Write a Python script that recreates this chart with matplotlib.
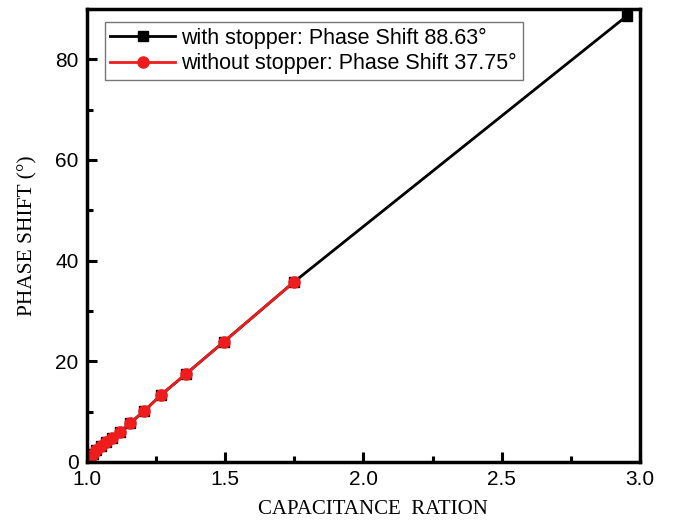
import matplotlib
matplotlib.use('Agg')
import matplotlib.pyplot as plt
from matplotlib.ticker import MultipleLocator

# capacitance ratio vs phase shift
ratio_without = [1.0, 1.005, 1.012, 1.022, 1.035, 1.05, 1.068, 1.09, 1.12, 1.156, 1.207, 1.268, 1.359, 1.496, 1.75]
shift_without = [0.0, 0.4, 0.9, 1.6, 2.3, 3.1, 4.0, 4.7, 6.0, 7.7, 10.1, 13.3, 17.5, 23.9, 35.8]

ratio_with = ratio_without + [2.953]
shift_with = shift_without + [88.63]

label_with = 'with stopper: Phase Shift 88.63°'
label_without = 'without stopper: Phase Shift 37.75°'

plt.rcParams['font.family'] = ['Liberation Sans', 'DejaVu Sans']

fig = plt.figure(figsize=(6.73, 5.22), dpi=100)
ax = fig.add_axes([0.129, 0.115, 0.822, 0.868])

ax.plot(ratio_with, shift_with, color='black', lw=2, marker='s', ms=7, label=label_with)
ax.plot(ratio_without, shift_without, color='#ee1c1c', lw=2, marker='o', ms=8, label=label_without)

ax.set_xlim(1.0, 3.0)
ax.set_ylim(0, 90)
ax.xaxis.set_major_locator(MultipleLocator(0.5))
ax.xaxis.set_minor_locator(MultipleLocator(0.25))
ax.yaxis.set_major_locator(MultipleLocator(20))
ax.yaxis.set_minor_locator(MultipleLocator(10))

for s in ax.spines.values():
    s.set_linewidth(2.5)
ax.tick_params(which='both', direction='in', width=2.2, labelsize=15, pad=6)
ax.tick_params(which='major', length=7)
ax.tick_params(which='minor', length=4)

ax.set_xlabel('CAPACITANCE  RATION', family='Liberation Serif', fontsize=15, labelpad=7)
ax.xaxis.set_label_coords(0.517, -0.085)
ax.set_ylabel('PHASE SHIFT (°)', family='Liberation Serif', fontsize=15.5, labelpad=13)

leg = ax.legend(loc='upper left', bbox_to_anchor=(0.033, 0.97), fontsize=15.5, fancybox=False,
                handlelength=3.0, borderpad=0.25, labelspacing=0.2, handletextpad=0.3, borderaxespad=0)
leg.get_frame().set_edgecolor('#555555')
leg.get_frame().set_linewidth(1)

fig.savefig('out.png', dpi=100)
